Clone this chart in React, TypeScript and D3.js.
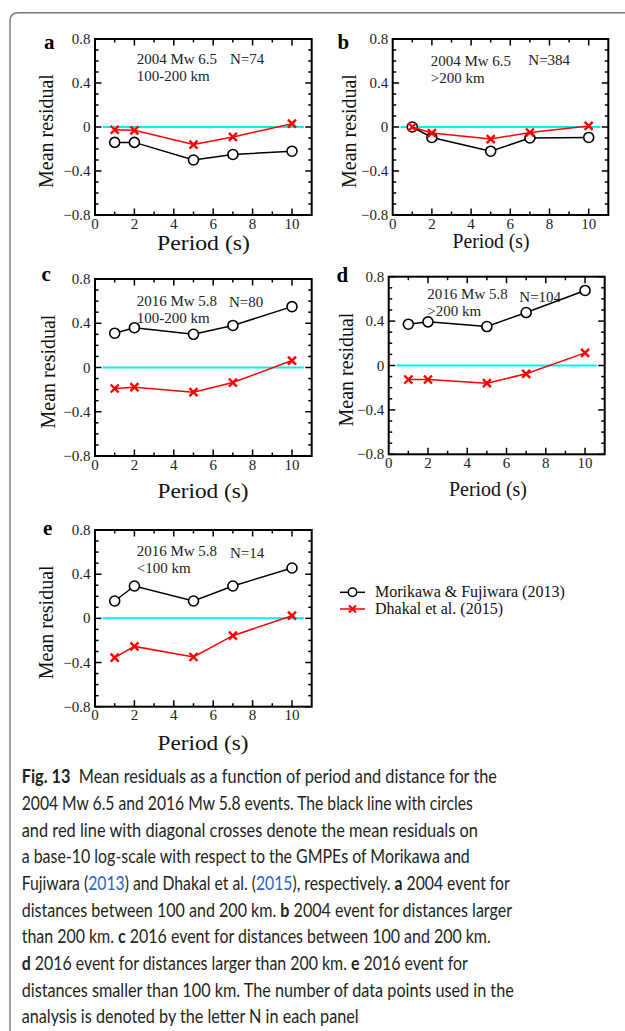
import React, { useLayoutEffect, useRef, useState } from "react";
import * as d3 from "d3";

// ---------- data ----------
const periods = [1, 2, 5, 7, 10];
const morikawaA = [-0.14, -0.14, -0.3, -0.25, -0.22];
const dhakalA = [-0.025, -0.03, -0.16, -0.09, 0.03];
const morikawaB = [0.0, -0.095, -0.22, -0.1, -0.095];
const dhakalB = [0.0, -0.055, -0.11, -0.05, 0.01];
const morikawaC = [0.31, 0.36, 0.3, 0.38, 0.55];
const dhakalC = [-0.19, -0.178, -0.223, -0.136, 0.063];
const morikawaD = [0.372, 0.393, 0.351, 0.477, 0.676];
const dhakalD = [-0.126, -0.126, -0.159, -0.075, 0.114];
const morikawaE = [0.157, 0.293, 0.157, 0.293, 0.456];
const dhakalE = [-0.356, -0.254, -0.35, -0.157, 0.024];

const panelLetters = ["a", "b", "c", "d", "e"];
const panelEvents = ["2004 Mw 6.5", "2004 Mw 6.5", "2016 Mw 5.8", "2016 Mw 5.8", "2016 Mw 5.8"];
const panelRanges = ["100-200 km", ">200 km", "100-200 km", ">200 km", "<100 km"];
const panelN = ["N=74", "N=384", "N=80", "N=104", "N=14"];
const morikawaSeries = [morikawaA, morikawaB, morikawaC, morikawaD, morikawaE];
const dhakalSeries = [dhakalA, dhakalB, dhakalC, dhakalD, dhakalE];

const xTicks = [0, 2, 4, 6, 8, 10];
const yTicks = [-0.8, -0.4, 0, 0.4, 0.8];
const xMinorTicks = [1, 2, 3, 4, 5, 6, 7, 8, 9, 10];
const yMinorTicks = [-0.7, -0.6, -0.5, -0.3, -0.2, -0.1, 0.1, 0.2, 0.3, 0.5, 0.6, 0.7];
const legendLabels = ["Morikawa & Fujiwara (2013)", "Dhakal et al. (2015)"];

type Seg = { t: string; b?: boolean; blue?: boolean };
const captionLines: Seg[][] = [
  [{ t: "Fig. 13", b: true }, { t: "\u00a0 Mean residuals as a function of period and distance for the" }],
  [{ t: "2004 Mw 6.5 and 2016 Mw 5.8 events. The black line with circles" }],
  [{ t: "and red line with diagonal crosses denote the mean residuals on" }],
  [{ t: "a base-10 log-scale with respect to the GMPEs of Morikawa and" }],
  [
    { t: "Fujiwara (" }, { t: "2013", blue: true }, { t: ") and Dhakal et al. (" }, { t: "2015", blue: true },
    { t: "), respectively. " }, { t: "a", b: true }, { t: " 2004 event for" },
  ],
  [{ t: "distances between 100 and 200 km. " }, { t: "b", b: true }, { t: " 2004 event for distances larger" }],
  [{ t: "than 200 km. " }, { t: "c", b: true }, { t: " 2016 event for distances between 100 and 200 km." }],
  [{ t: "d", b: true }, { t: " 2016 event for distances larger than 200 km. " }, { t: "e", b: true }, { t: " 2016 event for" }],
  [{ t: "distances smaller than 100 km. The number of data points used in the" }],
  [{ t: "analysis is denoted by the letter N in each panel" }],
];
const captionWidths = [475, 451, 456, 448, 488, 490, 469, 446, 492, 337];

// ---------- layout ----------
const layouts = [
  { l: 95, r: 311.7, t: 39, b: 215, letter: [44, 49], txt: [136.7, 64, 80.7], n: [230, 64], yl: 53, xl: 35, xc: 203.5, xw: 93, xf: 21.5 },
  { l: 392.7, r: 608.3, t: 39, b: 215, letter: [337.5, 48.5], txt: [430.7, 66, 83], n: [528.3, 65], yl: 356, xl: 33, xc: 491, xw: 77, xf: 20 },
  { l: 95, r: 311.7, t: 279, b: 456, letter: [41.5, 281], txt: [136.7, 305.7, 322.7], n: [229, 306.7], yl: 55, xl: 42, xc: 203, xw: 91, xf: 21.5 },
  { l: 388.7, r: 604.7, t: 276.7, b: 454.3, letter: [336.5, 281.7], txt: [427.3, 299, 315.7], n: [519.3, 301.7], yl: 353, xl: 42, xc: 488, xw: 78, xf: 20 },
  { l: 95, r: 311.7, t: 530, b: 706.7, letter: [43, 535], txt: [136.7, 555.7, 572.7], n: [230, 558.3], yl: 53, xl: 43, xc: 203, xw: 91, xf: 21.5 },
];

const SERIF = "'Liberation Serif', 'Times New Roman', serif";

function Panel({ i }: { i: number }) {
  const L = layouts[i];
  const x = d3.scaleLinear().domain([0, 11]).range([L.l, L.r]);
  const y = d3.scaleLinear().domain([-0.8, 0.8]).range([L.b, L.t]);
  const line = d3
    .line<number>()
    .x((_, k) => x(periods[k]))
    .y((v) => y(v));
  const mor = morikawaSeries[i];
  const dha = dhakalSeries[i];
  const major = 6.5;
  const minor = 3.5;
  const cs = 4;
  return (
    <g fontFamily={SERIF}>
      <line x1={x(0.4)} x2={x(10.6)} y1={y(0)} y2={y(0)} stroke="#00f2f2" strokeWidth={2} />
      {xMinorTicks.map((v) => {
        const len = v % 2 === 0 ? major : minor;
        return (
          <g key={"xt" + v}>
            <line x1={x(v)} x2={x(v)} y1={L.b} y2={L.b - len} stroke="#000" strokeWidth={1.5} />
            <line x1={x(v)} x2={x(v)} y1={L.t} y2={L.t + len} stroke="#000" strokeWidth={1.5} />
          </g>
        );
      })}
      {yTicks.concat(yMinorTicks).map((v) => {
        const len = yTicks.includes(v) ? major : minor;
        return (
          <g key={"yt" + v}>
            <line x1={L.l} x2={L.l + len} y1={y(v)} y2={y(v)} stroke="#000" strokeWidth={1.5} />
            <line x1={L.r} x2={L.r - len} y1={y(v)} y2={y(v)} stroke="#000" strokeWidth={1.5} />
          </g>
        );
      })}
      <rect x={L.l} y={L.t} width={L.r - L.l} height={L.b - L.t} fill="none" stroke="#000" strokeWidth={2} />
      {xTicks.map((v) => (
        <text key={"xl" + v} x={x(v)} y={L.b + 13.5} fontSize={15} textAnchor="middle" fill="#222">
          {String(v)}
        </text>
      ))}
      {yTicks.map((v) => (
        <text key={"yl" + v} x={L.l - 4.5} y={y(v) + 5} fontSize={15} textAnchor="end" fill="#222">
          {v === 0 ? "0" : d3.format(".1f")(v)}
        </text>
      ))}
      <text
        x={L.xc - L.xw / 2}
        y={L.b + L.xl}
        fontSize={L.xf}
        textLength={L.xw}
        lengthAdjust="spacingAndGlyphs"
        fill="#111"
      >
        Period (s)
      </text>
      <text
        transform={`translate(${L.yl},${(L.t + L.b) / 2 + 4}) rotate(-90)`}
        fontSize={20}
        textAnchor="middle"
        fill="#111"
      >
        Mean residual
      </text>
      <text x={L.letter[0]} y={L.letter[1]} fontSize={21} fontWeight="bold" fill="#000">
        {panelLetters[i]}
      </text>
      <text x={L.txt[0]} y={L.txt[1]} fontSize={15} fill="#222">
        {panelEvents[i]}
      </text>
      <text x={L.txt[0]} y={L.txt[2]} fontSize={15} fill="#222">
        {panelRanges[i]}
      </text>
      <text x={L.n[0]} y={L.n[1]} fontSize={15} fill="#222">
        {panelN[i]}
      </text>
      <path d={line(mor) || ""} fill="none" stroke="#000" strokeWidth={1.5} />
      {mor.map((v, k) => (
        <circle key={"c" + k} cx={x(periods[k])} cy={y(v)} r={5} fill="#fff" stroke="#000" strokeWidth={1.6} />
      ))}
      <path d={line(dha) || ""} fill="none" stroke="#f00" strokeWidth={1.5} />
      {dha.map((v, k) => (
        <path
          key={"x" + k}
          d={`M${x(periods[k]) - cs},${y(v) - cs}L${x(periods[k]) + cs},${y(v) + cs}M${x(periods[k]) - cs},${y(v) + cs}L${x(periods[k]) + cs},${y(v) - cs}`}
          stroke="#f00"
          strokeWidth={2.4}
          fill="none"
        />
      ))}
    </g>
  );
}

function Legend() {
  const rows = [592.3, 609];
  return (
    <g fontFamily={SERIF}>
      <line x1={340} x2={365} y1={rows[0]} y2={rows[0]} stroke="#000" strokeWidth={1.5} />
      <circle cx={352.5} cy={rows[0]} r={4.2} fill="#fff" stroke="#000" strokeWidth={1.5} />
      <text x={375} y={rows[0] + 5} fontSize={16} fill="#111">
        {legendLabels[0]}
      </text>
      <line x1={340} x2={365} y1={rows[1]} y2={rows[1]} stroke="#f00" strokeWidth={1.5} />
      <path
        d={`M${352.5 - 3.5},${rows[1] - 3.5}L${352.5 + 3.5},${rows[1] + 3.5}M${352.5 - 3.5},${rows[1] + 3.5}L${352.5 + 3.5},${rows[1] - 3.5}`}
        stroke="#f00"
        strokeWidth={2.2}
      />
      <text x={375} y={rows[1] + 5} fontSize={16} fill="#111">
        {legendLabels[1]}
      </text>
    </g>
  );
}

function Caption() {
  const x0 = 21.7;
  const y0 = 783.3;
  const lh = 26.65;
  const refs = useRef<(SVGTextElement | null)[]>([]);
  const [scales, setScales] = useState<number[]>(captionLines.map(() => 0.93));
  useLayoutEffect(() => {
    const s = captionLines.map((_, li) => {
      const el = refs.current[li];
      if (!el) return 0.93;
      const w = el.getComputedTextLength();
      return w > 0 ? captionWidths[li] / w : 0.93;
    });
    setScales(s);
  }, []);
  return (
    <g fontFamily="Lato, 'Open Sans', sans-serif" fontSize={19.5} fill="#231f20">
      {captionLines.map((segs, li) => (
        <g key={li} transform={`translate(${x0},${y0 + li * lh}) scale(${scales[li]},1)`}>
          <text
            ref={(el) => {
              refs.current[li] = el;
            }}
            x={0}
            y={0}
            xmlSpace="preserve"
          >
            {segs.map((s, si) => (
              <tspan key={si} fontWeight={s.b ? "bold" : "normal"} fill={s.blue ? "#2b5fce" : "#231f20"}>
                {s.t}
              </tspan>
            ))}
          </text>
        </g>
      ))}
    </g>
  );
}

export default function App() {
  return (
    <svg
      width={625}
      height={1031}
      viewBox="0 0 625 1031"
      style={{ position: "absolute", left: 0, top: 0, background: "#fff" }}
    >
      <rect width={625} height={1031} fill="#fff" />
      <path d="M10,1035 L10,21 Q10,12.7 18.3,12.7 L630,12.7" fill="none" stroke="#7a7a7a" strokeWidth={1.4} />
      {layouts.map((_, i) => (
        <Panel key={i} i={i} />
      ))}
      <Legend />
      <Caption />
    </svg>
  );
}
